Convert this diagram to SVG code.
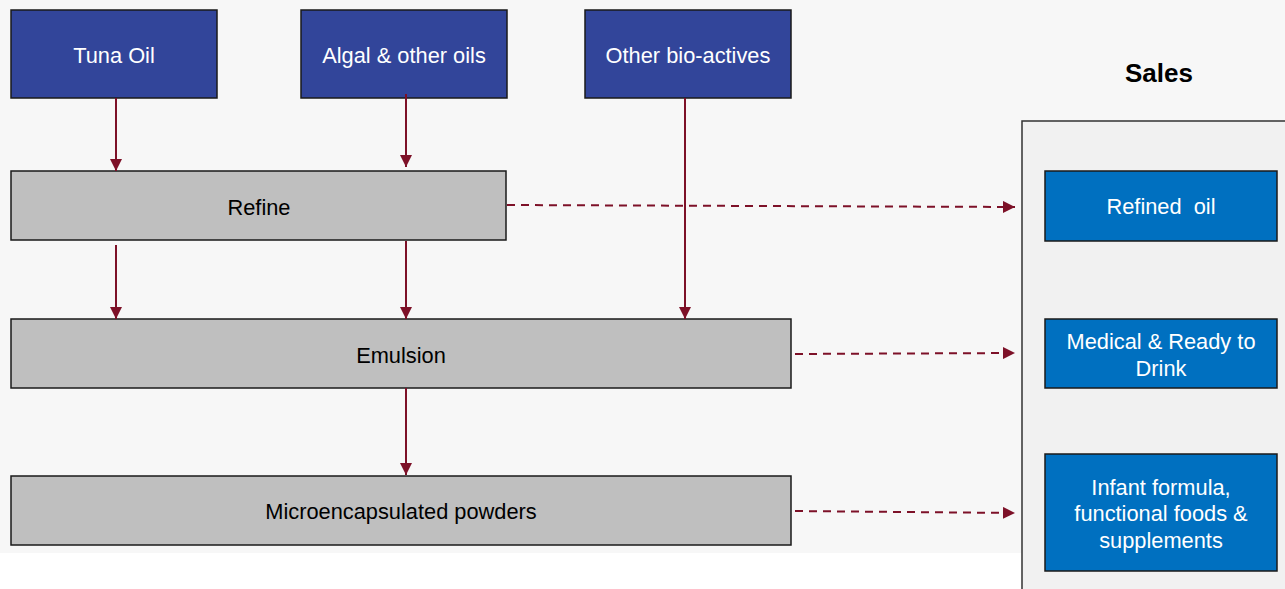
<svg xmlns="http://www.w3.org/2000/svg" width="1285" height="589" viewBox="0 0 1285 589">
<defs>
<style>
.src{fill:#32459a;stroke:#1a1a1a;stroke-width:1.5}
.proc{fill:#bfbfbf;stroke:#1a1a1a;stroke-width:1.5}
.out{fill:#0070c0;stroke:#1a1a1a;stroke-width:1.5}
text{font-family:"Liberation Sans",Arial,sans-serif;font-size:21.8px;text-anchor:middle;white-space:pre}
.w{fill:#ffffff}
.k{fill:#000000}
.conn line{stroke:#7d1128;stroke-width:2}
.dash{stroke-dasharray:8 6}
</style>
<marker id="ah" viewBox="0 0 10 10" refX="10" refY="5" markerWidth="12" markerHeight="12" markerUnits="userSpaceOnUse" orient="auto">
<path d="M0,0 L10,5 L0,10 z" fill="#7d1128"/>
</marker>
</defs>
<rect x="0" y="0" width="1285" height="553" fill="#f7f7f7"/>
<rect x="1022" y="121" width="270" height="480" fill="#f1f1f1" stroke="#333333" stroke-width="1.5"/>
<text x="1159" y="82" class="k" style="font-weight:bold;font-size:26px">Sales</text>

<g id="tuna"><rect class="src" x="11" y="10" width="206" height="88"/><text x="114" y="63" class="w">Tuna Oil</text></g>
<g id="algal"><rect class="src" x="301" y="10" width="206" height="88"/><text x="404" y="63" class="w">Algal &amp; other oils</text></g>
<g id="bio"><rect class="src" x="585" y="10" width="206" height="88"/><text x="688" y="63" class="w">Other bio-actives</text></g>

<g id="refine"><rect class="proc" x="11" y="171" width="495" height="69"/><text x="259" y="215" class="k">Refine</text></g>
<g id="emulsion"><rect class="proc" x="11" y="319" width="780" height="69"/><text x="401" y="363" class="k">Emulsion</text></g>
<g id="micro"><rect class="proc" x="11" y="476" width="780" height="69"/><text x="401" y="519" class="k">Microencapsulated powders</text></g>

<g id="refined-oil"><rect class="out" x="1045" y="171" width="232" height="70"/><text x="1161" y="214" class="w">Refined  oil</text></g>
<g id="medical"><rect class="out" x="1045" y="319" width="232" height="69"/><text x="1161" y="349" class="w">Medical &amp; Ready to</text><text x="1161" y="376" class="w">Drink</text></g>
<g id="infant"><rect class="out" x="1045" y="454" width="232" height="117"/><text x="1161" y="495" class="w">Infant formula,</text><text x="1161" y="521" class="w">functional foods &amp;</text><text x="1161" y="548" class="w">supplements</text></g>

<g class="conn">
<line x1="116" y1="98" x2="116" y2="171" marker-end="url(#ah)"/>
<line x1="406" y1="94" x2="406" y2="167" marker-end="url(#ah)"/>
<line x1="116" y1="245" x2="116" y2="319" marker-end="url(#ah)"/>
<line x1="406" y1="241" x2="406" y2="319" marker-end="url(#ah)"/>
<line x1="685" y1="98" x2="685" y2="319" marker-end="url(#ah)"/>
<line x1="406" y1="388" x2="406" y2="475" marker-end="url(#ah)"/>
<line class="dash" x1="507" y1="205" x2="1015" y2="207" marker-end="url(#ah)"/>
<line class="dash" x1="795" y1="354" x2="1015" y2="353" marker-end="url(#ah)"/>
<line class="dash" x1="795" y1="511" x2="1015" y2="513" marker-end="url(#ah)"/>
</g>
</svg>
